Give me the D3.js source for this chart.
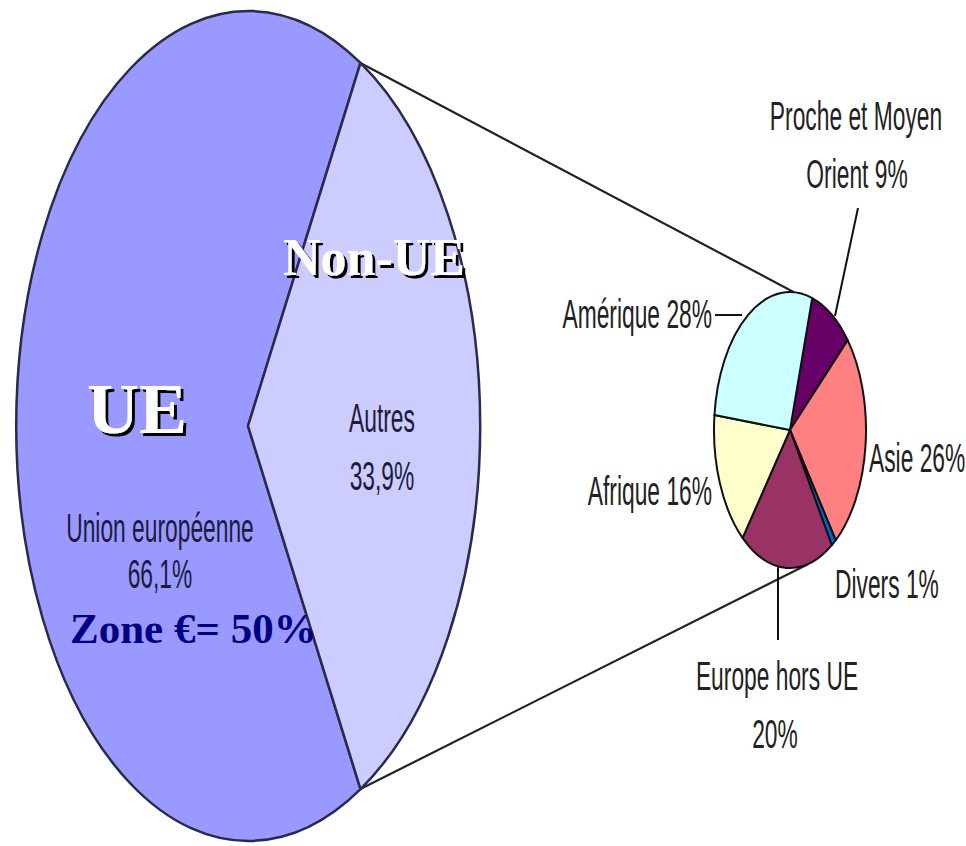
<!DOCTYPE html>
<html>
<head>
<meta charset="utf-8">
<script src="https://cdn.jsdelivr.net/npm/d3@7"></script>
<style>
  body { margin: 0; background: #fff; }
</style>
</head>
<body>
<div id="chart"></div>
<script>
// données
const mainNames = ['Union européenne', 'Autres'];
const mainValues = [66.1, 33.9];
const mainPct = ['66,1%', '33,9%'];
const subNames = ['Proche et Moyen Orient', 'Asie', 'Divers', 'Europe hors UE', 'Afrique', 'Amérique'];
const subValues = [9, 26, 1, 20, 16, 28];
const subPct = ['9%', '26%', '1%', '20%', '16%', '28%'];
const overlayTexts = ['UE', 'Non-UE', 'Zone €= 50%'];

const width = 966;
const height = 846;
const deg = Math.PI / 180;

const mainColors = ['#9999ff', '#ccccff'];
const subColors = ['#660066', '#ff8080', '#0066cc', '#993366', '#ffffcc', '#ccffff'];

const svg = d3.select('#chart')
  .append('svg')
  .attr('width', width)
  .attr('height', height)
  .attr('viewBox', [0, 0, width, height])

// ombre portée pour les gros titres
svg.append('defs')
  .append('filter')
  .attr('id', 'shadow')
  .attr('x', '-10%').attr('y', '-10%')
  .attr('width', '130%').attr('height', '130%')
  .append('feDropShadow')
  .attr('dx', 3)
  .attr('dy', 3)
  .attr('stdDeviation', 0)
  .attr('flood-color', '#000')
  .attr('flood-opacity', 1)

// grand camembert (ellipse)
const big = { cx: 248, cy: 426, rx: 232, ry: 415 };
const small = { cx: 790, cy: 430, rx: 76, ry: 138 };

const total = d3.sum(mainValues);
const autresSpan = 2 * Math.PI * mainValues[1] / total;
const mainStart = Math.PI / 2 + autresSpan / 2;

const mainPie = d3.pie()
  .sort(null)
  .startAngle(mainStart)
  .endAngle(mainStart + 2 * Math.PI)
  .value(d => d)

const subPie = d3.pie()
  .sort(null)
  .startAngle(17 * deg)
  .endAngle(17 * deg + 2 * Math.PI)
  .value(d => d)

const unitArc = d3.arc().innerRadius(0).outerRadius(1);

const onEllipse = (e, a) => [e.cx + e.rx * Math.sin(a), e.cy - e.ry * Math.cos(a)];

const mainArcs = mainPie(mainValues);
const subArcs = subPie(subValues);

// lignes de liaison
const autres = mainArcs[1];
const links = [
  [onEllipse(big, autres.startAngle), onEllipse(small, 3 * deg)],
  [onEllipse(big, autres.endAngle), onEllipse(small, 166 * deg)]
];
svg.append('g')
  .selectAll('line')
  .data(links)
  .enter()
  .append('line')
  .attr('x1', d => d[0][0])
  .attr('y1', d => d[0][1])
  .attr('x2', d => d[1][0])
  .attr('y2', d => d[1][1])
  .attr('stroke', '#222')
  .attr('stroke-width', 2.2)

const bigG = svg.append('g')
  .attr('transform', `translate(${big.cx},${big.cy}) scale(${big.rx},${big.ry})`)
bigG.selectAll('path')
  .data(mainArcs)
  .enter()
  .append('path')
  .attr('d', unitArc)
  .attr('fill', (d, i) => mainColors[i])
  .attr('stroke', '#2a2a4a')
  .attr('stroke-width', 2.5)
  .attr('stroke-linejoin', 'round')
  .attr('vector-effect', 'non-scaling-stroke')

const smallG = svg.append('g')
  .attr('transform', `translate(${small.cx},${small.cy}) scale(${small.rx},${small.ry})`)
smallG.selectAll('path')
  .data(subArcs)
  .enter()
  .append('path')
  .attr('d', unitArc)
  .attr('fill', (d, i) => subColors[i])
  .attr('stroke', '#111')
  .attr('stroke-width', 2)
  .attr('stroke-linejoin', 'round')
  .attr('vector-effect', 'non-scaling-stroke')

// traits de rappel
const leaders = [
  [[858, 208], [835, 316]],
  [[715, 315], [742, 315]],
  [[778, 567], [778, 640]]
];
svg.append('g')
  .selectAll('line')
  .data(leaders)
  .enter()
  .append('line')
  .attr('x1', d => d[0][0])
  .attr('y1', d => d[0][1])
  .attr('x2', d => d[1][0])
  .attr('y2', d => d[1][1])
  .attr('stroke', '#111')
  .attr('stroke-width', 2)

// étiquettes style Excel (Arial étroit)
function label(x, y, txt, anchor, color) {
  svg.append('text')
    .attr('transform', `translate(${x},${y}) scale(0.57,1)`)
    .attr('text-anchor', anchor)
    .attr('font-family', '"Liberation Sans", Arial, sans-serif')
    .attr('font-size', 40)
    .attr('fill', color || '#222')
    .text(txt)
}

label(160, 542, mainNames[0], 'middle', '#1c1c3a');
label(160, 588, mainPct[0], 'middle', '#1c1c3a');
label(382, 432, mainNames[1], 'middle', '#1c1c3a');
label(382, 490, mainPct[1], 'middle', '#1c1c3a');

label(856, 130, 'Proche et Moyen', 'middle');
label(857, 188, 'Orient ' + subPct[0], 'middle');
label(869, 472, subNames[1] + ' ' + subPct[1], 'start');
label(835, 598, subNames[2] + ' ' + subPct[2], 'start');
label(777, 690, subNames[3], 'middle');
label(775, 748, subPct[3], 'middle');
label(712, 505, subNames[4] + ' ' + subPct[4], 'end');
label(712, 328, subNames[5] + ' ' + subPct[5], 'end');

// textes ajoutés
function bigText(x, y, txt, size, fill, shadow) {
  const t = svg.append('text')
    .attr('x', x)
    .attr('y', y)
    .attr('font-family', '"Liberation Serif", "Times New Roman", serif')
    .attr('font-weight', 'bold')
    .attr('font-size', size)
    .attr('fill', fill)
    .text(txt)
  if (shadow) t.attr('filter', 'url(#shadow)')
}

bigText(87, 433, overlayTexts[0], 72, '#fff', true);
bigText(283, 275, overlayTexts[1], 52, '#fff', true);
bigText(70, 643, overlayTexts[2], 43, '#000080', false);
</script>
</body>
</html>
